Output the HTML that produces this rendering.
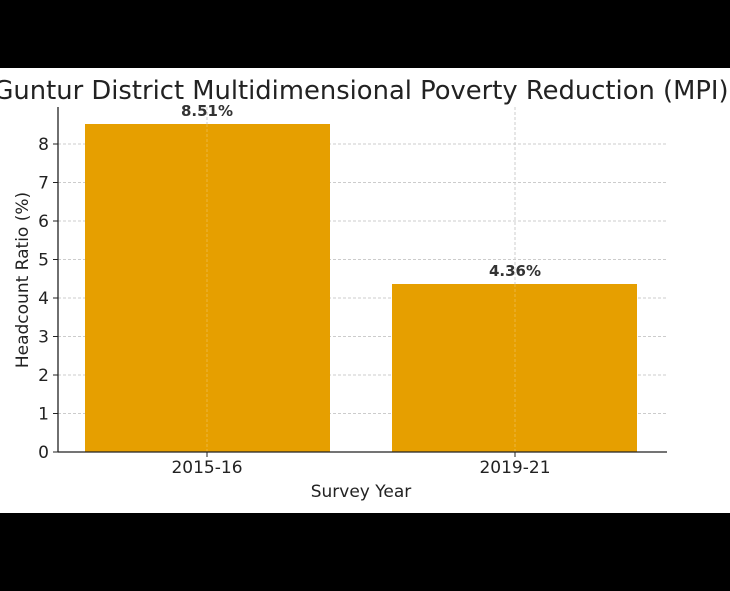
<!DOCTYPE html>
<html><head><style>body{margin:0;background:#000}svg{display:block}</style></head><body>
<svg width="730" height="591" xmlns="http://www.w3.org/2000/svg" font-family="DejaVu Sans, Liberation Sans, sans-serif">
<rect x="0" y="0" width="730" height="591" fill="#000"/>
<rect x="0" y="68" width="730" height="445" fill="#fff"/>
<text x="361" y="99" font-size="25.8" fill="#222" text-anchor="middle">Guntur District Multidimensional Poverty Reduction (MPI)</text>
<g stroke="#ccc" stroke-dasharray="3,2" stroke-width="1">
<line x1="58" x2="667" y1="413.5" y2="413.5"/><line x1="58" x2="667" y1="375" y2="375"/>
<line x1="58" x2="667" y1="336.5" y2="336.5"/><line x1="58" x2="667" y1="298" y2="298"/>
<line x1="58" x2="667" y1="259.5" y2="259.5"/><line x1="58" x2="667" y1="221" y2="221"/>
<line x1="58" x2="667" y1="182.5" y2="182.5"/><line x1="58" x2="667" y1="144" y2="144"/>
<line x1="207" x2="207" y1="107" y2="452"/><line x1="515" x2="515" y1="107" y2="452"/>
</g>
<rect x="85" y="124" width="245" height="328" fill="#E69F00"/>
<rect x="392" y="284" width="245" height="168" fill="#E69F00"/>
<g stroke="#ffffff" stroke-opacity="0.25" stroke-dasharray="3,2"><line x1="207" x2="207" y1="124" y2="452"/><line x1="515" x2="515" y1="284" y2="452"/></g>
<line x1="58" x2="58" y1="107" y2="452" stroke="#222" stroke-width="1.3"/>
<line x1="58" x2="667" y1="452" y2="452" stroke="#222" stroke-width="1.3"/>
<g stroke="#222"><line x1="53" x2="58" y1="452" y2="452"/><line x1="53" x2="58" y1="413.5" y2="413.5"/><line x1="53" x2="58" y1="375" y2="375"/><line x1="53" x2="58" y1="336.5" y2="336.5"/><line x1="53" x2="58" y1="298" y2="298"/><line x1="53" x2="58" y1="259.5" y2="259.5"/><line x1="53" x2="58" y1="221" y2="221"/><line x1="53" x2="58" y1="182.5" y2="182.5"/><line x1="53" x2="58" y1="144" y2="144"/>
<line x1="207" x2="207" y1="452" y2="457"/><line x1="515" x2="515" y1="452" y2="457"/></g>
<g font-size="17" fill="#222" text-anchor="end">
<text x="49" y="458">0</text><text x="49" y="419.5">1</text><text x="49" y="381">2</text><text x="49" y="342.5">3</text><text x="49" y="304">4</text><text x="49" y="265.5">5</text><text x="49" y="227">6</text><text x="49" y="188.5">7</text><text x="49" y="150">8</text></g>
<g font-size="17" fill="#222" text-anchor="middle">
<text x="207" y="473">2015-16</text><text x="515" y="473">2019-21</text>
<text x="361" y="497">Survey Year</text>
<text transform="translate(28,280) rotate(-90)">Headcount Ratio (%)</text></g>
<g font-size="15" font-weight="bold" fill="#333" text-anchor="middle">
<text x="207" y="116">8.51%</text><text x="515" y="276">4.36%</text></g>
</svg>
</body></html>
